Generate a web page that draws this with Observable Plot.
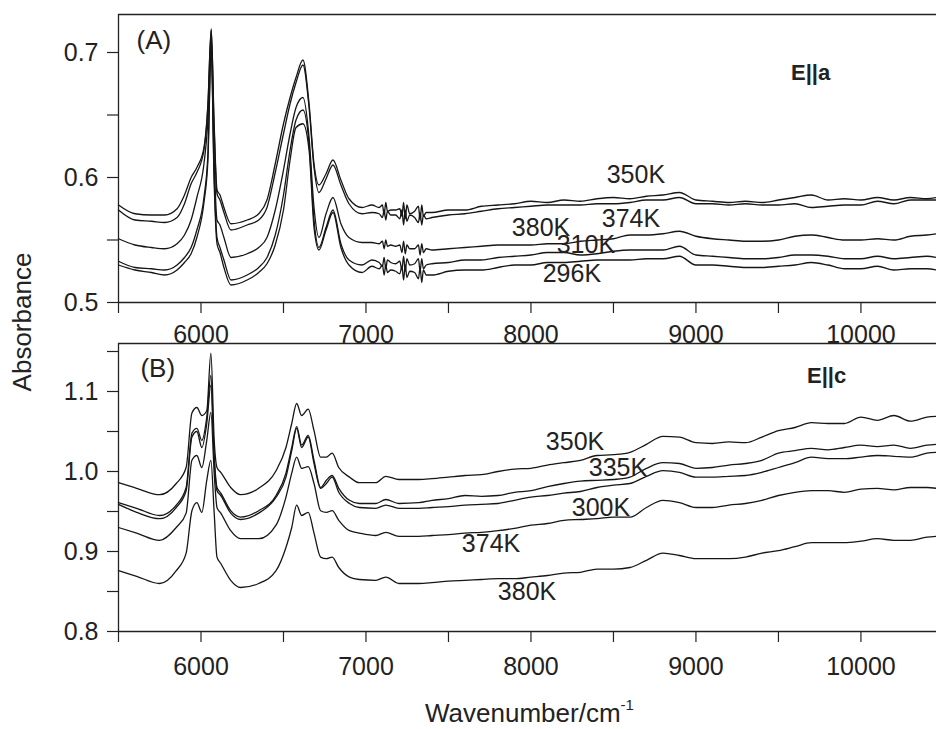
<!DOCTYPE html>
<html><head><meta charset="utf-8">
<script src="https://cdn.jsdelivr.net/npm/d3@7"></script>
<script src="https://cdn.jsdelivr.net/npm/@observablehq/plot@0.6"></script>
<style>
body{margin:0;background:#fff;}
#wrap{position:relative;width:936px;height:729px;overflow:hidden;font-family:"Liberation Sans",Arial,sans-serif;color:#222;background:#fff;}
#wrap svg{position:absolute;left:0;overflow:visible;}
.title{position:absolute;font-size:26px;line-height:26px;white-space:nowrap;color:#222;}
</style></head><body><div id="wrap"></div>
<script>
// ---------- data ----------
const xDomain = [5500, 10458];
const xMajor = [6000, 7000, 8000, 9000, 10000];
const xMinor = [5500, 6500, 7500, 8500, 9500];

// Panel A (E||a)
const yDomainA = [0.5, 0.7304];
const yMajorA = [0.5, 0.6, 0.7];
const yMinorA = [0.55, 0.65];
const waveA = [5500,5600,5700,5780,5855,5900,5940,5975,6018,6042,
  6062,6079,6097,6115,6139,6182,6280,6350,6400,6450,
  6500,6540,6576,6618,6655,6685,6715,6758,6800,6848,
  6897,6976,7036,7080,
  7100,7110,7120,7130,7150,7180,7205,7218,7228,7238,7248,7265,7295,7318,7328,7338,7348,7365,
  7400,7500,7600,7700,7800,7900,8000,8100,8200,8300,8400,8500,8600,8700,8800,8900,9000,9100,9200,9300,9400,9500,9600,9700,9800,9900,10000,10100,10200,10300,10400,
  10458];
const a350 = [.578,.571,.570,.570,.575,.586,.600,.608,.624,.659,
  .719,.646,.590,.586,.576,.563,.566,.571,.582,.611,
  .643,.664,.680,.694,.659,.611,.594,.603,.614,.598,
  .583,.576,.578,.576,
  .578,.570,.580,.573,.574,.574,.575,.569,.580,.567,.578,.571,.573,.577,.566,.578,.569,.572,
  .572,.574,.574,.577,.578,.579,.581,.580,.582,.581,.583,.584,.583,.585,.586,.588,.582,.581,.580,.581,.580,.582,.584,.586,.582,.583,.582,.584,.582,.584,.583,
  .584];
const a374 = [.574,.566,.565,.564,.568,.579,.595,.604,.622,.657,
  .718,.642,.587,.582,.572,.558,.562,.566,.576,.604,
  .635,.659,.676,.690,.656,.608,.588,.599,.610,.594,
  .579,.571,.572,.571,
  .568,.574,.566,.573,.570,.570,.567,.574,.562,.574,.565,.570,.568,.564,.572,.562,.570,.567,
  .568,.570,.571,.573,.575,.576,.577,.578,.578,.578,.579,.579,.580,.582,.582,.584,.579,.579,.578,.579,.578,.578,.579,.576,.577,.578,.578,.581,.579,.582,.582,
  .582];
const a380 = [.551,.546,.544,.543,.547,.554,.566,.584,.611,.646,
  .713,.619,.566,.562,.552,.536,.539,.544,.552,.574,
  .606,.635,.656,.664,.632,.576,.552,.571,.584,.563,
  .552,.548,.548,.547,
  .549,.543,.550,.545,.546,.545,.546,.540,.549,.539,.546,.543,.543,.546,.538,.547,.540,.543,
  .542,.543,.544,.545,.546,.546,.546,.547,.547,.549,.550,.551,.554,.554,.555,.557,.553,.551,.550,.549,.549,.550,.553,.554,.552,.550,.550,.551,.550,.553,.554,
  .555];
const a310 = [.533,.528,.527,.526,.530,.536,.544,.558,.584,.619,
  .706,.606,.552,.544,.534,.518,.522,.528,.536,.554,
  .586,.622,.646,.654,.627,.566,.544,.560,.574,.547,
  .534,.530,.534,.532,
  .529,.536,.527,.534,.532,.531,.533,.526,.537,.525,.535,.530,.531,.535,.525,.535,.527,.530,
  .531,.532,.534,.534,.536,.537,.538,.540,.540,.538,.539,.541,.542,.542,.542,.545,.538,.537,.536,.535,.535,.536,.538,.538,.537,.535,.535,.537,.535,.536,.537,
  .536];
const a296 = [.530,.526,.524,.522,.526,.532,.539,.552,.580,.614,
  .703,.600,.547,.540,.528,.514,.518,.524,.531,.546,
  .574,.614,.640,.643,.622,.560,.542,.558,.572,.544,
  .530,.524,.529,.527,
  .530,.522,.530,.524,.526,.525,.523,.529,.518,.530,.520,.525,.524,.519,.528,.516,.526,.522,
  .522,.525,.526,.526,.528,.530,.530,.532,.532,.533,.534,.534,.534,.535,.535,.537,.530,.530,.529,.528,.528,.529,.530,.532,.530,.527,.527,.529,.526,.527,.527,
  .526];
const namesA = ["350K", "374K", "380K", "310K", "296K"];
const labelsA = [
  {t: "350K", x: 8636, y: 0.6024},
  {t: "374K", x: 8606, y: 0.5672},
  {t: "380K", x: 8061, y: 0.5600},
  {t: "310K", x: 8333, y: 0.5460},
  {t: "296K", x: 8248, y: 0.5230}];
const tagA = [{t: "(A)", x: 5609, y: 0.7096}];
const polA = [{t: "E||a", x: 9576, y: 0.684}];

// Panel B (E||c)
const yDomainB = [0.8, 1.16];
const yMajorB = [0.8, 0.9, 1.0, 1.1];
const yMinorB = [0.85, 0.95, 1.05, 1.15];
const waveB = [5500,5610,5750,5850,5910,5945,5975,6005,6035,6060,
  6080,6097,6120,6180,6240,6350,6455,6515,6550,6580,
  6610,6650,6685,6725,6760,6795,6835,6900,6960,7060,
  7120,7200,7320,
  7400,7500,7600,7700,7800,7900,8000,8100,8200,8300,8400,8500,8600,8700,8800,8900,9000,9100,9200,9300,9400,9500,9600,9700,9800,9900,10000,10100,10200,10300,10400,
  10458];
const b350 = [.986,.979,.971,.985,1.005,1.073,1.080,1.070,1.076,1.148,
  1.039,1.005,.999,.980,.971,.979,1.001,1.030,1.060,1.085,
  1.070,1.078,1.051,1.018,1.018,1.023,1.005,.993,.986,.986,
  .994,.990,.990,
  .991,.993,.995,.996,1.000,1.003,1.004,1.008,1.011,1.014,1.020,1.021,1.024,1.034,1.044,1.043,1.036,1.035,1.037,1.036,1.043,1.051,1.055,1.061,1.060,1.060,1.068,1.064,1.070,1.063,1.068,
  1.069];
const b335 = [.961,.954,.945,.958,.980,1.048,1.054,1.039,1.068,1.120,
  1.020,.980,.973,.951,.943,.951,.970,.998,1.030,1.056,
  1.033,1.045,1.014,.980,.989,.995,.979,.964,.960,.960,
  .965,.960,.961,
  .964,.966,.970,.969,.970,.974,.976,.981,.985,.988,.989,.990,.993,1.004,1.011,1.010,1.004,1.005,1.008,1.010,1.014,1.023,1.026,1.029,1.027,1.030,1.033,1.031,1.033,1.029,1.033,
  1.034];
const b300 = [.959,.949,.941,.955,.976,1.043,1.050,1.030,1.060,1.108,
  1.014,.976,.970,.948,.940,.948,.968,.993,1.026,1.054,
  1.030,1.043,1.010,.979,.985,.993,.974,.960,.955,.954,
  .958,.954,.954,
  .955,.956,.958,.959,.960,.964,.968,.970,.973,.975,.980,.983,.985,.994,1.001,.999,.993,.993,.994,.995,.999,1.005,1.011,1.018,1.016,1.016,1.018,1.020,1.019,1.018,1.023,
  1.024];
const b374 = [.930,.923,.914,.930,.948,1.014,1.020,1.005,1.039,1.074,
  .998,.955,.948,.926,.916,.916,.933,.968,.998,1.018,
  1.004,1.006,.985,.951,.949,.951,.939,.926,.923,.920,
  .924,.919,.919,
  .920,.921,.923,.924,.926,.929,.933,.935,.939,.940,.941,.943,.943,.955,.964,.961,.955,.955,.958,.960,.964,.970,.974,.976,.976,.974,.978,.979,.977,.980,.980,
  .979];
const b380 = [.876,.869,.860,.876,.898,.951,.961,.949,.989,1.014,
  .948,.893,.885,.864,.855,.860,.876,.905,.930,.958,
  .945,.949,.923,.893,.891,.893,.880,.868,.865,.864,
  .868,.860,.860,
  .861,.863,.864,.865,.866,.866,.868,.870,.873,.874,.878,.878,.880,.889,.898,.895,.891,.891,.891,.893,.898,.901,.906,.911,.911,.911,.913,.916,.914,.914,.918,
  .919];
const namesB = ["350K", "335K", "300K", "374K", "380K"];
const labelsB = [
  {t: "350K", x: 8267, y: 1.0375},
  {t: "335K", x: 8527, y: 1.004},
  {t: "300K", x: 8424, y: 0.955},
  {t: "374K", x: 7758, y: 0.909},
  {t: "380K", x: 7976, y: 0.849}];
const tagB = [{t: "(B)", x: 5633, y: 1.128}];
const polB = [{t: "E||c", x: 9673, y: 1.12}];

// ---------- drawing ----------
const FONT = '"Liberation Sans", Arial, sans-serif';
const INK = "#222";

function panel(o) {
  const rows = o.names.flatMap((n, i) => o.wave.map((w, j) => ({w, a: o.series[i][j], s: n})));
  return Plot.plot({
    width: 936, height: o.height,
    marginLeft: 118, marginRight: 0, marginTop: o.mTop, marginBottom: o.mBottom,
    x: {domain: xDomain, axis: null},
    y: {domain: o.yDomain, axis: null},
    style: {fontFamily: FONT, fontSize: "25px", color: INK, background: "transparent", overflow: "visible"},
    marks: [
      Plot.ruleY(o.yDomain, {stroke: INK, strokeWidth: 1.3}),
      Plot.ruleX([xDomain[0]], {stroke: INK, strokeWidth: 1.3}),
      Plot.line(rows, {x: "w", y: "a", z: "s", stroke: "#161616", strokeWidth: 1.3, curve: "monotone-x"}),
      Plot.axisX({ticks: xMajor, tickSize: 11, tickPadding: o.xPad, fontSize: 25, label: null, tickFormat: d => String(d), strokeWidth: 1.2}),
      Plot.axisX({ticks: xMinor, tickSize: 11, tickFormat: () => "", label: null, strokeWidth: 1.2}),
      Plot.axisY({ticks: o.yMajor, tickSize: 11, tickPadding: 9, fontSize: 25, label: null, tickFormat: d3.format(".1f"), strokeWidth: 1.2}),
      Plot.axisY({ticks: o.yMinor, tickSize: 11, tickFormat: () => "", label: null, strokeWidth: 1.2}),
      Plot.text(o.labels, {x: "x", y: "y", text: "t", fontSize: 25, fill: INK}),
      Plot.text(o.tag, {x: "x", y: "y", text: "t", fontSize: 26, fill: INK, textAnchor: "start"}),
      Plot.text(o.pol, {x: "x", y: "y", text: "t", fontSize: 22, fontWeight: "bold", fill: INK, textAnchor: "start"})
    ]
  });
}

const wrap = document.getElementById("wrap");
const svgA = panel({wave: waveA, series: [a350, a374, a380, a310, a296], names: namesA,
  yDomain: yDomainA, yMajor: yMajorA, yMinor: yMinorA, labels: labelsA, tag: tagA, pol: polA,
  height: 333, mTop: 14, mBottom: 31, xPad: 12});
svgA.style.top = "0px";
wrap.appendChild(svgA);

const svgB = panel({wave: waveB, series: [b350, b335, b300, b374, b380], names: namesB,
  yDomain: yDomainB, yMajor: yMajorB, yMinor: yMinorB, labels: labelsB, tag: tagB, pol: polB,
  height: 396, mTop: 10, mBottom: 98, xPad: 15});
svgB.style.top = "333px";
wrap.appendChild(svgB);

const yTitle = document.createElement("div");
yTitle.className = "title";
yTitle.textContent = "Absorbance";
Object.assign(yTitle.style, {left: "-78px", top: "309px", width: "200px", textAlign: "center", transform: "rotate(-90deg)"});
wrap.appendChild(yTitle);

const xTitle = document.createElement("div");
xTitle.className = "title";
xTitle.innerHTML = 'Wavenumber/cm<span style="font-size:15px;position:relative;top:-12px;">-1</span>';
Object.assign(xTitle.style, {left: "425px", top: "700px"});
wrap.appendChild(xTitle);
</script></body></html>
